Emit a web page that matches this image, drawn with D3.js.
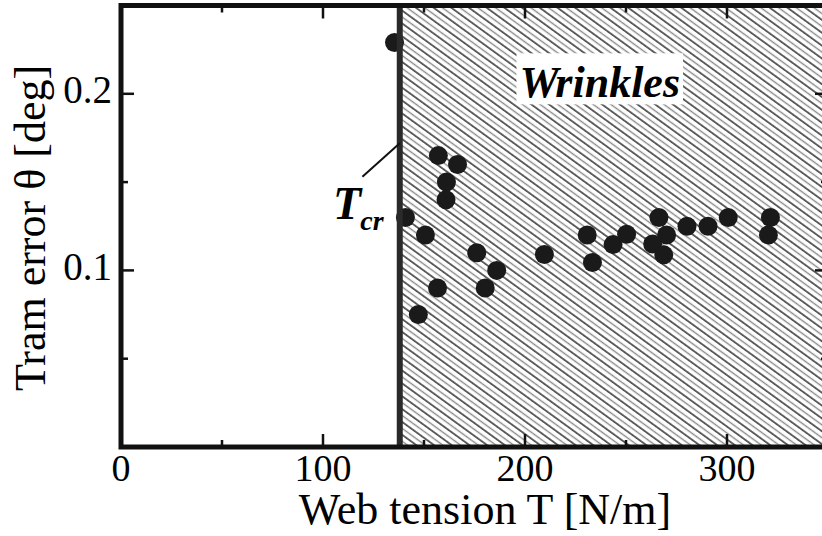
<!DOCTYPE html>
<html>
<head>
<meta charset="utf-8">
<script src="https://cdn.jsdelivr.net/npm/d3@7/dist/d3.min.js"></script>
<style>
  html, body { margin: 0; padding: 0; background: #fff; }
  svg { display: block; font-family: "Liberation Serif", "Times New Roman", serif; }
</style>
</head>
<body>
<svg id="chart" width="822" height="536"></svg>
<script>
// Measured tram error against web tension
const tension = [135.4, 157.1, 166.6, 161.1, 160.9, 140.8, 150.7, 176.1, 186.0, 156.7, 180.3, 147.2,
                 209.6, 230.8, 233.4, 243.6, 250.3, 266.3, 270.1, 263.2, 268.7, 280.2, 290.6, 300.6,
                 321.5, 320.5];
const tramError = [0.229, 0.165, 0.160, 0.150, 0.140, 0.130, 0.120, 0.110, 0.100, 0.090, 0.090, 0.075,
                   0.109, 0.120, 0.1045, 0.1146, 0.1205, 0.130, 0.120, 0.115, 0.1088, 0.125, 0.125, 0.130,
                   0.130, 0.120];

// Critical tension where wrinkling starts
const criticalTension = 138;

// Axis ticks
const xMajorTicks = [0, 100, 200, 300];
const xMinorTicks = [50, 150, 250];
const yMajorTicks = [0.1, 0.2];
const yMinorTicks = [0.05, 0.15];
const xDomain = [0, 350];
const yDomain = [0, 0.25];

const svg = d3.select("#chart");
const plotLeft = 121, plotRight = 828, plotTop = 5.5, plotBottom = 447;

const x = d3.scaleLinear().domain(xDomain).range([plotLeft, plotRight]);
const y = d3.scaleLinear().domain(yDomain).range([plotBottom, plotTop]);

// Diagonal hatching for the wrinkle region
const defs = svg.append("defs");
const pat = defs.append("pattern")
  .attr("id", "hatch")
  .attr("patternUnits", "userSpaceOnUse")
  .attr("width", 12).attr("height", 10.4)
  .attr("patternTransform", "rotate(36)");
pat.append("line").attr("x1", 0).attr("x2", 12).attr("y1", 1).attr("y2", 1)
  .attr("stroke", "#222").attr("stroke-width", 1.4);
pat.append("line").attr("x1", 0).attr("x2", 12).attr("y1", 6.2).attr("y2", 6.2)
  .attr("stroke", "#8a8a8a").attr("stroke-width", 1.4);

svg.append("rect")
  .attr("x", x(criticalTension))
  .attr("y", y(yDomain[1]))
  .attr("width", x(xDomain[1]) - x(criticalTension))
  .attr("height", y(0) - y(yDomain[1]))
  .attr("fill", "url(#hatch)");

// Data points
svg.append("g").selectAll("circle")
  .data(d3.zip(tension, tramError))
  .join("circle")
  .attr("cx", d => x(d[0]))
  .attr("cy", d => y(d[1]))
  .attr("r", 9.5)
  .attr("fill", "#1a1a1a");

// Critical tension boundary
svg.append("line")
  .attr("x1", x(criticalTension)).attr("x2", x(criticalTension))
  .attr("y1", y(yDomain[1])).attr("y2", y(0))
  .attr("stroke", "#2a2a2a").attr("stroke-width", 6);

// Frame
svg.append("rect")
  .attr("x", plotLeft).attr("y", plotTop)
  .attr("width", plotRight - plotLeft).attr("height", plotBottom - plotTop)
  .attr("fill", "none").attr("stroke", "#111").attr("stroke-width", 5);

// Inward ticks on all four sides
const tickG = svg.append("g").attr("stroke", "#111").attr("stroke-width", 2.5);
function xTicks(vals, len) {
  vals.forEach(v => {
    tickG.append("line").attr("x1", x(v)).attr("x2", x(v)).attr("y1", plotBottom).attr("y2", plotBottom - len);
    tickG.append("line").attr("x1", x(v)).attr("x2", x(v)).attr("y1", plotTop).attr("y2", plotTop + len);
  });
}
function yTicks(vals, len) {
  vals.forEach(v => {
    tickG.append("line").attr("y1", y(v)).attr("y2", y(v)).attr("x1", plotLeft).attr("x2", plotLeft + len);
    tickG.append("line").attr("y1", y(v)).attr("y2", y(v)).attr("x1", plotRight).attr("x2", plotRight - len);
  });
}
xTicks(xMajorTicks.filter(v => v > 0), 13);
xTicks(xMinorTicks, 7);
yTicks(yMajorTicks, 13);
yTicks(yMinorTicks, 7);

// Tick labels
svg.append("g").selectAll("text")
  .data(xMajorTicks)
  .join("text")
  .attr("x", d => x(d))
  .attr("y", 481)
  .attr("text-anchor", "middle")
  .attr("font-size", 38)
  .text(d => d3.format("d")(d));

svg.append("g").selectAll("text")
  .data(yMajorTicks)
  .join("text")
  .attr("x", 112)
  .attr("y", d => y(d) + 9.5)
  .attr("text-anchor", "end")
  .attr("font-size", 39)
  .text(d => d3.format(".1f")(d));

// Axis titles
svg.append("text")
  .attr("x", 485).attr("y", 524)
  .attr("text-anchor", "middle")
  .attr("font-size", 44)
  .text("Web tension T [N/m]");

svg.append("text")
  .attr("transform", "translate(45,228) rotate(-90)")
  .attr("text-anchor", "middle")
  .attr("font-size", 44)
  .text("Tram error θ [deg]");

// Region label on a white backing
const wl = svg.append("text")
  .attr("x", x(237)).attr("y", y(0.198))
  .attr("text-anchor", "middle")
  .attr("font-size", 44)
  .attr("font-weight", "bold")
  .attr("font-style", "italic")
  .text("Wrinkles");
const bb = wl.node().getBBox();
svg.insert("rect", () => wl.node())
  .attr("x", bb.x - 3).attr("y", bb.y - 5)
  .attr("width", bb.width + 6).attr("height", bb.height + 2)
  .attr("fill", "#fff");

// Critical tension annotation
svg.append("line")
  .attr("x1", x(119.5)).attr("y1", y(0.153))
  .attr("x2", x(criticalTension)).attr("y2", y(0.172))
  .attr("stroke", "#111").attr("stroke-width", 2);

const tcr = svg.append("text")
  .attr("x", x(105)).attr("y", y(0.129))
  .attr("font-weight", "bold")
  .attr("font-style", "italic");
tcr.append("tspan").attr("font-size", 46).text("T");
tcr.append("tspan").attr("font-size", 28).attr("dx", -1).attr("dy", 11).text("cr");
</script>
</body>
</html>
